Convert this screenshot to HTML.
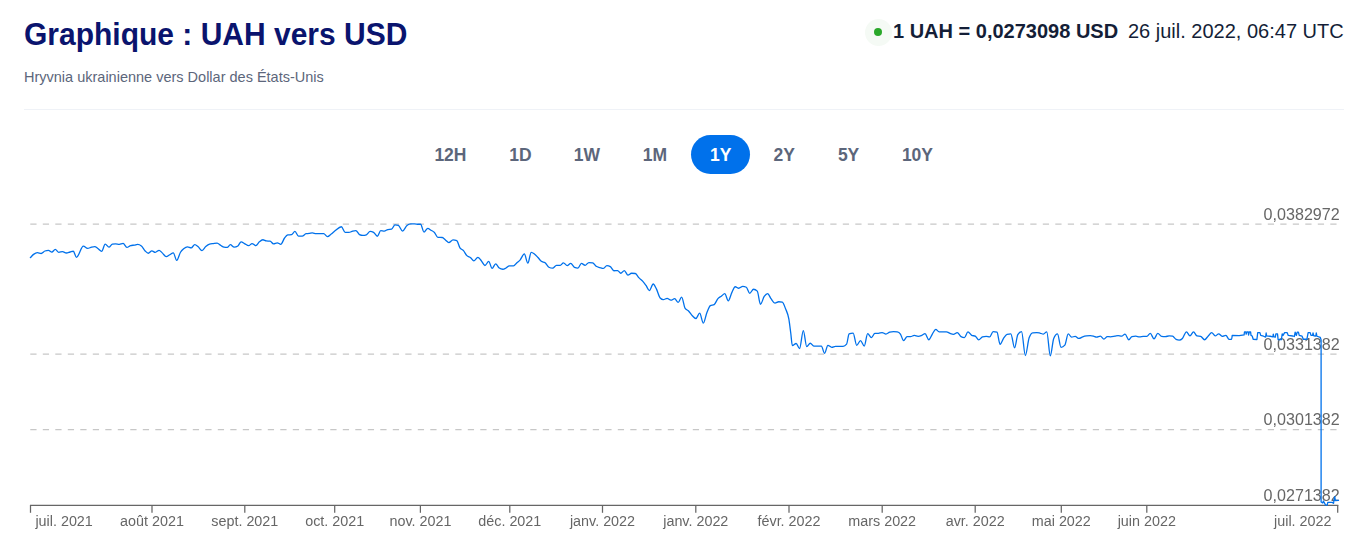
<!DOCTYPE html>
<html><head><meta charset="utf-8">
<style>
html,body{margin:0;padding:0;background:#fff;}
body{width:1357px;height:555px;position:relative;overflow:hidden;font-family:"Liberation Sans",sans-serif;}
.abs{position:absolute;white-space:nowrap;}
svg text{font-family:"Liberation Sans",sans-serif;}
#title{left:24px;top:17px;font-size:30px;font-weight:bold;color:#0a146e;line-height:36px;transform:scaleY(1.03);transform-origin:0 28px;}
#sub{left:24px;top:68px;font-size:14.5px;color:#5c667b;line-height:18px;}
#hr{left:24px;top:109px;width:1320px;height:1px;background:#eff2f7;}
#rateb{left:893px;top:19px;font-size:20px;line-height:24px;color:#141e37;font-weight:bold;}
#ratet{left:1128px;top:19px;font-size:20px;line-height:24px;color:#141e37;}
#halo{left:864.6px;top:18.6px;width:27.2px;height:27.2px;border-radius:50%;background:#f5faf5;}
#dot{left:873.9px;top:27.9px;width:8px;height:8px;border-radius:50%;background:#2aa82a;}
.tab{position:absolute;top:136px;height:38px;line-height:38px;font-size:17.5px;font-weight:bold;color:#5c667b;white-space:nowrap;}
#active{left:691px;top:135px;width:59px;height:39px;border-radius:20px;background:#0071eb;}
</style></head><body>
<div id="title" class="abs">Graphique : UAH vers USD</div>
<div id="sub" class="abs">Hryvnia ukrainienne vers Dollar des États-Unis</div>
<div id="hr" class="abs"></div>
<div id="halo" class="abs"></div><div id="dot" class="abs"></div>
<div id="rateb" class="abs">1 UAH = 0,0273098 USD</div>
<div id="ratet" class="abs">26 juil. 2022, 06:47 UTC</div>
<div id="active" class="abs"></div>
<div class="tab" style="left:434.4px">12H</div>
<div class="tab" style="left:509.2px">1D</div>
<div class="tab" style="left:573.8px">1W</div>
<div class="tab" style="left:642.8px">1M</div>
<div class="tab" style="left:710px;color:#fff">1Y</div>
<div class="tab" style="left:773.5px">2Y</div>
<div class="tab" style="left:837.9px">5Y</div>
<div class="tab" style="left:901.9px">10Y</div>
<svg class="abs" style="left:0;top:0;will-change:transform" width="1357" height="555" viewBox="0 0 1357 555">
<line x1="30.3" x2="1337.5" y1="224" y2="224" stroke="#c7c7c7" stroke-width="1.25" stroke-dasharray="6.25 6.25"/>
<line x1="30.3" x2="1337.5" y1="354" y2="354" stroke="#c7c7c7" stroke-width="1.25" stroke-dasharray="6.25 6.25"/>
<line x1="30.3" x2="1337.5" y1="429.65" y2="429.65" stroke="#c7c7c7" stroke-width="1.25" stroke-dasharray="6.25 6.25"/>
<text x="1339.7" y="219.7" text-anchor="end" font-size="16.1" fill="#666">0,0382972</text>
<text x="1339.7" y="349.7" text-anchor="end" font-size="16.1" fill="#666">0,0331382</text>
<text x="1339.7" y="425.3" text-anchor="end" font-size="16.1" fill="#666">0,0301382</text>
<text x="1339.7" y="501.1" text-anchor="end" font-size="16.1" fill="#666">0,0271382</text>
<path d="M30 505.4H1338.3" stroke="#666" stroke-width="1.25" fill="none"/>
<path d="M30.5 505V512.8" stroke="#666" stroke-width="1.25" fill="none"/>
<path d="M152.0 505V512.8" stroke="#666" stroke-width="1.25" fill="none"/>
<path d="M244.8 505V512.8" stroke="#666" stroke-width="1.25" fill="none"/>
<path d="M334.7 505V512.8" stroke="#666" stroke-width="1.25" fill="none"/>
<path d="M420.4 505V512.8" stroke="#666" stroke-width="1.25" fill="none"/>
<path d="M509.8 505V512.8" stroke="#666" stroke-width="1.25" fill="none"/>
<path d="M602.5 505V512.8" stroke="#666" stroke-width="1.25" fill="none"/>
<path d="M695.8 505V512.8" stroke="#666" stroke-width="1.25" fill="none"/>
<path d="M789.0 505V512.8" stroke="#666" stroke-width="1.25" fill="none"/>
<path d="M882.2 505V512.8" stroke="#666" stroke-width="1.25" fill="none"/>
<path d="M975.2 505V512.8" stroke="#666" stroke-width="1.25" fill="none"/>
<path d="M1061.3 505V512.8" stroke="#666" stroke-width="1.25" fill="none"/>
<path d="M1146.8 505V512.8" stroke="#666" stroke-width="1.25" fill="none"/>
<path d="M1337.7 505V512.8" stroke="#666" stroke-width="1.25" fill="none"/>
<text x="35.4" y="526" font-size="14.35" fill="#666">juil. 2021</text>
<text x="152.0" y="526" text-anchor="middle" font-size="14.35" fill="#666">août 2021</text>
<text x="244.8" y="526" text-anchor="middle" font-size="14.35" fill="#666">sept. 2021</text>
<text x="334.7" y="526" text-anchor="middle" font-size="14.35" fill="#666">oct. 2021</text>
<text x="420.4" y="526" text-anchor="middle" font-size="14.35" fill="#666">nov. 2021</text>
<text x="509.8" y="526" text-anchor="middle" font-size="14.35" fill="#666">déc. 2021</text>
<text x="602.5" y="526" text-anchor="middle" font-size="14.35" fill="#666">janv. 2022</text>
<text x="695.8" y="526" text-anchor="middle" font-size="14.35" fill="#666">janv. 2022</text>
<text x="789.0" y="526" text-anchor="middle" font-size="14.35" fill="#666">févr. 2022</text>
<text x="882.2" y="526" text-anchor="middle" font-size="14.35" fill="#666">mars 2022</text>
<text x="975.2" y="526" text-anchor="middle" font-size="14.35" fill="#666">avr. 2022</text>
<text x="1061.3" y="526" text-anchor="middle" font-size="14.35" fill="#666">mai 2022</text>
<text x="1146.8" y="526" text-anchor="middle" font-size="14.35" fill="#666">juin 2022</text>
<text x="1331.5" y="526" text-anchor="end" font-size="14.35" fill="#666">juil. 2022</text>
<path d="M30.41 257.54C31.46 256.49 32.52 255.19 33.57 254.39C34.83 253.44 36.09 252.63 37.35 252.63C38.61 252.63 39.87 253.51 41.13 253.51C42.39 253.51 43.66 251.44 44.92 250.99C46.10 250.57 47.27 250.36 48.45 250.36C49.58 250.36 50.72 252.12 51.85 252.12C52.99 252.12 54.12 249.47 55.26 249.47C56.44 249.47 57.61 252.37 58.79 252.37C60.05 252.37 61.31 251.62 62.57 251.62C63.83 251.62 65.10 253.00 66.36 253.00C67.62 253.00 68.88 252.32 70.14 252.00C71.19 251.74 72.24 251.24 73.29 251.24C74.34 251.24 75.40 257.29 76.45 257.29C78.76 257.29 81.07 246.19 83.38 246.19C84.77 246.19 86.15 248.46 87.54 248.46C88.89 248.46 90.23 247.40 91.58 247.08C92.63 246.83 93.68 246.57 94.73 246.57C95.78 246.57 96.83 247.75 97.88 248.46C99.14 249.31 100.41 251.36 101.67 251.36C102.85 251.36 104.02 244.05 105.20 244.05C106.46 244.05 107.72 247.20 108.98 247.20C110.12 247.20 111.25 244.23 112.39 244.05C113.44 243.88 114.49 243.80 115.54 243.80C116.80 243.80 118.06 244.30 119.32 244.30C120.58 244.30 121.85 243.42 123.11 243.42C124.37 243.42 125.63 247.46 126.89 247.46C128.15 247.46 129.41 245.89 130.67 245.56C131.93 245.23 133.20 245.27 134.46 245.06C135.51 244.88 136.56 244.43 137.61 244.43C138.87 244.43 140.13 244.93 141.39 245.94C142.65 246.95 143.92 249.73 145.18 250.99C146.23 252.04 147.28 253.26 148.33 253.26C149.51 253.26 150.68 250.86 151.86 250.86C153.00 250.86 154.13 252.37 155.27 252.37C156.53 252.37 157.79 250.36 159.05 250.36C160.10 250.36 161.15 251.98 162.20 252.88C163.55 254.04 164.89 256.66 166.24 256.66C167.42 256.66 168.59 255.40 169.77 254.77C170.95 254.14 172.12 252.88 173.30 252.88C174.43 252.88 175.57 260.45 176.70 260.45C177.96 260.45 179.23 254.24 180.49 252.25C181.54 250.60 182.59 249.72 183.64 248.84C184.90 247.79 186.16 246.82 187.42 246.82C188.68 246.82 189.95 247.83 191.21 247.83C192.39 247.83 193.56 244.68 194.74 244.68C195.89 244.68 197.05 245.89 198.20 246.82C199.46 247.83 200.72 250.61 201.98 250.61C203.24 250.61 204.50 247.66 205.76 246.57C207.02 245.47 208.29 244.38 209.55 244.05C210.81 243.72 212.07 243.70 213.33 243.55C214.59 243.40 215.85 243.17 217.11 243.17C218.37 243.17 219.64 244.84 220.90 245.56C221.95 246.16 223.00 247.03 224.05 247.20C225.10 247.37 226.15 247.46 227.20 247.46C228.25 247.46 229.31 244.68 230.36 244.68C231.62 244.68 232.88 247.20 234.14 247.20C235.40 247.20 236.66 246.78 237.92 245.94C238.97 245.24 240.03 241.78 241.08 241.78C242.34 241.78 243.60 243.15 244.86 243.80C246.12 244.45 247.38 245.69 248.64 245.69C249.78 245.69 250.91 243.55 252.05 243.55C253.31 243.55 254.57 245.69 255.83 245.69C257.01 245.69 258.18 242.77 259.36 241.78C260.54 240.79 261.71 239.76 262.89 239.76C264.03 239.76 265.16 240.75 266.30 240.90C267.56 241.07 268.82 240.98 270.08 241.15C271.22 241.30 272.35 243.80 273.49 243.80C274.75 243.80 276.01 242.79 277.27 242.79C278.45 242.79 279.62 244.30 280.80 244.30C282.06 244.30 283.32 239.61 284.58 238.00C285.63 236.65 286.69 235.18 287.74 234.97C289.00 234.72 290.26 234.84 291.52 234.59C292.66 234.36 293.79 231.44 294.93 231.44C296.11 231.44 297.28 236.11 298.46 236.11C299.72 236.11 300.98 236.11 302.24 236.11C303.50 236.11 304.76 233.91 306.02 233.71C307.07 233.54 308.13 233.61 309.18 233.46C310.23 233.31 311.28 232.83 312.33 232.83C313.59 232.83 314.85 233.71 316.11 233.71C317.37 233.71 318.64 233.71 319.90 233.71C321.16 233.71 322.42 233.71 323.68 233.71C324.94 233.71 326.20 236.61 327.46 236.61C328.72 236.61 329.99 234.93 331.25 233.96C332.51 232.99 333.77 231.77 335.03 230.81C337.13 229.21 339.24 226.77 341.34 226.77C342.60 226.77 343.86 232.45 345.12 232.45C346.38 232.45 347.64 232.45 348.90 232.45C350.16 232.45 351.43 231.38 352.69 231.06C353.74 230.79 354.79 230.56 355.84 230.56C357.08 230.56 358.31 233.93 359.55 234.59C360.64 235.18 361.74 235.47 362.83 235.47C364.01 235.47 365.18 235.26 366.36 234.84C367.62 234.39 368.88 231.44 370.14 231.44C371.28 231.44 372.41 231.73 373.55 232.32C374.81 232.97 376.07 236.23 377.33 236.23C378.47 236.23 379.60 230.56 380.74 230.56C381.92 230.56 383.09 231.06 384.27 231.06C385.45 231.06 386.62 229.79 387.80 229.55C389.06 229.30 390.32 229.42 391.58 229.17C392.72 228.94 393.85 224.88 394.99 224.88C396.12 224.88 397.26 225.05 398.39 225.39C399.78 225.81 401.16 231.06 402.55 231.06C404.02 231.06 405.50 226.57 406.97 225.39C408.23 224.38 409.49 223.87 410.75 223.87C412.01 223.87 413.27 223.87 414.53 223.87C415.79 223.87 417.06 224.25 418.32 224.25C419.08 224.25 419.83 224.25 420.59 224.25C421.72 224.25 422.86 232.07 423.99 232.07C425.25 232.07 426.52 228.29 427.78 228.29C428.83 228.29 429.88 229.53 430.93 230.18C432.11 230.91 433.28 231.21 434.46 232.45C435.59 233.64 436.73 237.31 437.86 237.37C439.33 237.45 440.81 237.41 442.28 237.49C443.33 237.55 444.38 239.08 445.43 239.89C446.57 240.76 447.70 242.54 448.84 242.54C450.23 242.54 451.61 239.89 453.00 239.89C454.26 239.89 455.52 240.14 456.78 240.65C457.83 241.07 458.88 246.18 459.93 247.83C461.11 249.68 462.29 249.26 463.47 250.61C464.60 251.90 465.74 254.48 466.87 255.65C468.13 256.95 469.39 256.68 470.65 257.67C471.70 258.50 472.76 260.82 473.81 260.82C475.15 260.82 476.50 257.29 477.84 257.29C478.93 257.29 480.03 259.21 481.12 260.45C482.38 261.88 483.65 265.49 484.91 265.49C486.17 265.49 487.43 261.45 488.69 261.45C489.82 261.45 490.96 268.39 492.09 268.39C493.27 268.39 494.44 263.85 495.62 263.85C496.84 263.85 498.06 267.14 499.28 268.01C500.46 268.85 501.63 269.27 502.81 269.27C503.86 269.27 504.92 268.55 505.97 268.01C507.10 267.43 508.24 265.87 509.37 265.87C510.76 265.87 512.14 265.87 513.53 265.87C514.58 265.87 515.64 263.93 516.69 262.97C517.87 261.90 519.04 261.16 520.22 259.81C521.58 258.25 522.95 253.96 524.31 253.96C525.49 253.96 526.66 263.17 527.84 263.17C528.97 263.17 530.11 252.32 531.24 252.32C532.29 252.32 533.34 253.18 534.39 253.96C535.57 254.84 536.75 256.24 537.93 257.49C539.06 258.69 540.20 260.40 541.33 261.28C542.59 262.26 543.85 261.81 545.11 262.79C546.37 263.78 547.64 266.52 548.90 267.20C550.16 267.87 551.42 268.21 552.68 268.21C553.94 268.21 555.20 265.31 556.46 265.31C557.72 265.31 558.99 265.31 560.25 265.31C561.30 265.31 562.35 262.79 563.40 262.79C564.66 262.79 565.92 265.56 567.18 265.56C568.36 265.56 569.54 263.42 570.72 263.42C571.98 263.42 573.24 266.90 574.50 267.46C575.63 267.96 576.77 268.21 577.90 268.21C579.08 268.21 580.25 263.42 581.43 263.42C582.65 263.42 583.87 265.31 585.09 265.31C586.35 265.31 587.62 262.54 588.88 262.54C590.14 262.54 591.40 262.62 592.66 262.79C593.84 262.95 595.01 265.54 596.19 266.32C597.45 267.16 598.71 267.20 599.97 267.58C601.02 267.90 602.08 268.46 603.13 268.46C604.39 268.46 605.65 265.69 606.91 265.69C608.04 265.69 609.18 265.98 610.31 266.57C611.49 267.18 612.67 270.73 613.85 270.73C615.11 270.73 616.37 270.61 617.63 270.61C618.68 270.61 619.73 273.26 620.78 273.26C621.96 273.26 623.13 270.61 624.31 270.61C625.53 270.61 626.75 275.15 627.97 275.15C629.15 275.15 630.32 273.26 631.50 273.26C632.76 273.26 634.02 273.34 635.28 273.51C636.54 273.68 637.81 276.62 639.07 277.92C640.33 279.22 641.59 279.91 642.85 281.33C643.90 282.52 644.95 284.02 646.00 285.49C647.14 287.08 648.27 290.53 649.41 290.53C650.67 290.53 651.93 283.98 653.19 283.98C654.26 283.98 655.32 286.82 656.39 288.87C657.65 291.30 658.92 296.63 660.18 297.95C661.23 299.04 662.28 299.59 663.33 299.59C664.59 299.59 665.85 298.46 667.11 298.46C668.37 298.46 669.64 300.22 670.90 300.22C672.16 300.22 673.42 298.71 674.68 298.71C675.86 298.71 677.03 302.37 678.21 302.37C679.35 302.37 680.48 297.07 681.62 297.07C682.80 297.07 683.97 306.68 685.15 308.42C686.28 310.10 687.42 309.82 688.55 310.94C689.81 312.19 691.08 314.44 692.34 315.73C693.52 316.93 694.69 318.51 695.87 318.51C697.13 318.51 698.39 313.21 699.65 313.21C700.87 313.21 702.09 323.18 703.31 323.18C704.49 323.18 705.66 315.75 706.84 312.83C708.02 309.91 709.19 306.28 710.37 305.65C711.63 304.98 712.89 305.31 714.15 304.64C715.41 303.96 716.68 300.00 717.94 298.58C719.07 297.30 720.21 297.01 721.34 296.19C722.48 295.37 723.61 293.66 724.75 293.66C725.93 293.66 727.10 300.85 728.28 300.85C729.46 300.85 730.63 295.04 731.81 292.66C732.95 290.36 734.08 286.73 735.22 286.73C736.40 286.73 737.57 288.24 738.75 288.24C740.09 288.24 741.44 286.35 742.78 286.35C743.96 286.35 745.13 286.64 746.31 287.23C747.45 287.80 748.58 293.29 749.72 293.29C750.98 293.29 752.24 289.25 753.50 289.25C754.76 289.25 756.02 289.88 757.28 291.14C758.33 292.19 759.39 304.26 760.44 304.26C761.70 304.26 762.96 298.22 764.22 296.44C765.36 294.84 766.49 293.66 767.63 293.66C768.81 293.66 769.98 297.42 771.16 298.96C772.42 300.61 773.68 303.12 774.94 303.12C776.20 303.12 777.46 301.74 778.72 301.74C779.90 301.74 781.08 301.86 782.26 302.11C783.39 302.35 784.53 306.11 785.66 309.05C786.72 311.79 787.77 312.83 788.83 318.92C789.46 322.55 790.09 328.00 790.72 332.79C791.27 336.95 791.81 345.65 792.36 345.65C793.62 345.65 794.88 343.51 796.14 343.51C797.28 343.51 798.41 348.55 799.55 348.55C800.81 348.55 802.07 330.65 803.33 330.65C804.47 330.65 805.60 346.66 806.74 346.66C807.92 346.66 809.09 343.26 810.27 343.26C811.45 343.26 812.62 346.03 813.80 346.03C815.14 346.03 816.49 346.03 817.83 346.03C819.01 346.03 820.18 346.03 821.36 346.03C822.41 346.03 823.47 353.35 824.52 353.35C825.65 353.35 826.79 345.40 827.92 345.40C829.18 345.40 830.45 347.29 831.71 347.29C832.97 347.29 834.23 346.28 835.49 346.28C836.75 346.28 838.01 346.28 839.27 346.28C840.53 346.28 841.80 346.28 843.06 346.28C844.24 346.28 845.41 345.57 846.59 344.14C847.43 343.12 848.27 334.12 849.11 333.80C850.46 333.29 851.80 333.04 853.15 333.04C854.33 333.04 855.50 345.40 856.68 345.40C857.94 345.40 859.20 340.61 860.46 340.61C861.72 340.61 862.98 346.03 864.24 346.03C865.38 346.03 866.51 333.67 867.65 333.67C868.91 333.67 870.17 337.58 871.43 337.58C872.57 337.58 873.70 333.42 874.84 333.42C876.02 333.42 877.19 333.42 878.37 333.42C879.63 333.42 880.89 332.54 882.15 332.54C883.41 332.54 884.67 334.05 885.93 334.05C887.19 334.05 888.46 332.58 889.72 332.16C890.98 331.74 892.24 331.53 893.50 331.53C894.76 331.53 896.02 331.61 897.28 331.78C898.33 331.92 899.39 332.57 900.44 334.05C901.49 335.52 902.54 340.61 903.59 340.61C904.77 340.61 905.94 336.57 907.12 336.57C908.26 336.57 909.39 336.57 910.53 336.57C911.79 336.57 913.05 335.44 914.31 335.44C915.57 335.44 916.83 336.32 918.09 336.32C919.35 336.32 920.62 335.82 921.88 335.31C922.93 334.88 923.98 333.67 925.03 333.67C926.29 333.67 927.55 339.73 928.81 339.73C929.99 339.73 931.16 335.80 932.34 334.05C933.48 332.36 934.61 329.38 935.75 329.38C936.88 329.38 938.02 331.78 939.15 331.78C940.33 331.78 941.51 331.78 942.69 331.78C943.95 331.78 945.21 331.78 946.47 331.78C947.66 331.78 948.86 333.00 950.05 333.42C951.19 333.82 952.32 334.30 953.46 334.30C954.72 334.30 955.98 332.54 957.24 332.54C958.50 332.54 959.77 335.82 961.03 336.57C962.16 337.24 963.30 337.58 964.43 337.58C965.61 337.58 966.78 331.91 967.96 331.91C969.22 331.91 970.48 334.68 971.74 335.31C972.92 335.90 974.10 335.60 975.28 336.19C976.41 336.75 977.55 339.85 978.68 339.85C979.94 339.85 981.20 337.15 982.46 336.82C983.72 336.49 984.99 336.32 986.25 336.32C987.38 336.32 988.52 336.95 989.65 336.95C990.83 336.95 992.00 331.53 993.18 331.53C994.44 331.53 995.71 331.74 996.97 332.16C998.02 332.51 999.07 344.39 1000.12 344.39C1001.26 344.39 1002.39 340.12 1003.53 338.46C1004.71 336.74 1005.88 334.61 1007.06 334.30C1008.32 333.97 1009.58 333.80 1010.84 333.80C1012.10 333.80 1013.36 347.92 1014.62 347.92C1015.67 347.92 1016.73 336.44 1017.78 334.68C1019.04 332.58 1020.30 331.53 1021.56 331.53C1022.82 331.53 1024.08 355.49 1025.34 355.49C1026.60 355.49 1027.87 341.44 1029.13 337.83C1030.31 334.47 1031.48 332.94 1032.66 332.79C1034.00 332.62 1035.35 332.54 1036.69 332.54C1037.74 332.54 1038.80 332.81 1039.85 333.04C1041.03 333.30 1042.20 334.05 1043.38 334.05C1044.51 334.05 1045.65 331.78 1046.78 331.78C1047.96 331.78 1049.13 355.87 1050.31 355.87C1051.45 355.87 1052.58 341.26 1053.72 338.46C1054.98 335.35 1056.24 333.80 1057.50 333.80C1058.68 333.80 1059.85 347.29 1061.03 347.29C1062.29 347.29 1063.56 346.58 1064.82 345.15C1065.95 343.87 1067.09 333.80 1068.22 333.80C1069.36 333.80 1070.49 337.20 1071.63 337.20C1072.81 337.20 1073.98 336.32 1075.16 336.32C1076.42 336.32 1077.68 338.46 1078.94 338.46C1080.20 338.46 1081.46 337.24 1082.72 336.82C1083.98 336.40 1085.25 336.11 1086.51 335.94C1087.77 335.77 1089.03 335.69 1090.29 335.69C1091.34 335.69 1092.39 335.94 1093.44 336.19C1094.49 336.44 1095.55 337.20 1096.60 337.20C1097.86 337.20 1099.12 336.19 1100.38 336.19C1101.56 336.19 1102.73 339.09 1103.91 339.09C1105.05 339.09 1106.18 336.57 1107.32 336.57C1108.37 336.57 1109.42 336.82 1110.47 336.82C1111.96 336.82 1113.45 336.42 1114.94 336.19C1115.99 336.03 1117.04 335.69 1118.09 335.69C1119.27 335.69 1120.44 336.19 1121.62 336.19C1122.76 336.19 1123.89 334.05 1125.03 334.05C1126.29 334.05 1127.55 339.73 1128.81 339.73C1129.86 339.73 1130.91 336.78 1131.96 336.57C1133.22 336.32 1134.48 336.19 1135.74 336.19C1137.00 336.19 1138.27 336.95 1139.53 336.95C1140.79 336.95 1142.05 336.32 1143.31 336.32C1144.49 336.32 1145.66 336.32 1146.84 336.32C1147.98 336.32 1149.11 333.42 1150.25 333.42C1151.51 333.42 1152.77 338.84 1154.03 338.84C1155.29 338.84 1156.55 333.42 1157.81 333.42C1159.07 333.42 1160.34 336.15 1161.60 336.32C1162.86 336.49 1164.12 336.57 1165.38 336.57C1166.64 336.57 1167.90 335.94 1169.16 335.94C1170.30 335.94 1171.43 336.02 1172.57 336.19C1173.75 336.36 1174.92 338.79 1176.10 339.35C1177.15 339.85 1178.20 340.10 1179.25 340.10C1180.30 340.10 1181.36 339.52 1182.41 338.46C1183.75 337.11 1185.10 331.91 1186.44 331.91C1187.62 331.91 1188.79 335.94 1189.97 335.94C1191.15 335.94 1192.32 331.78 1193.50 331.78C1194.64 331.78 1195.77 335.71 1196.91 335.94C1198.17 336.19 1199.43 336.07 1200.69 336.32C1201.95 336.57 1203.22 339.73 1204.48 339.73C1205.74 339.73 1207.00 337.20 1208.26 335.94C1209.39 334.81 1210.53 332.54 1211.66 332.54C1212.84 332.54 1214.02 335.94 1215.20 335.94C1216.38 335.94 1217.55 333.80 1218.73 333.80C1219.86 333.80 1221.00 336.32 1222.13 336.32C1223.39 336.32 1224.66 335.31 1225.92 335.31C1226.97 335.31 1228.02 339.47 1229.07 339.47C1229.91 339.47 1230.75 339.47 1231.59 339.47C1231.80 339.47 1232.01 336.70 1232.22 335.31L1239.24 335.67L1244.11 334.86L1244.51 331.78L1245.73 331.78L1246.13 334.21L1246.94 331.78L1248.16 331.78L1248.56 335.02L1249.38 331.78L1250.59 331.78L1251.00 335.43L1252.21 336.00L1253.18 339.24L1256.91 339.48L1257.72 332.59L1259.91 332.59L1260.72 335.43L1263.56 336.24L1265.59 337.05L1266.15 333.00L1266.64 335.83L1270.05 336.24L1272.88 336.81L1273.29 334.21L1273.94 336.81L1275.31 337.05L1275.88 333.81L1277.50 333.81L1278.15 339.72L1281.39 339.72L1282.20 333.81L1283.02 335.43L1284.64 332.59L1287.07 332.59L1288.28 335.43L1292.74 336.00L1294.36 336.48L1295.17 332.19L1296.39 335.43L1297.20 332.19L1298.42 332.19L1299.23 335.43L1302.06 336.24L1303.28 339.24L1306.93 339.24L1308.14 332.59L1310.17 332.59L1310.98 335.43L1312.60 335.43L1313.01 333.00L1313.82 335.83L1315.85 336.00L1316.25 333.00L1316.90 336.24L1320.30 337.45L1321.11 339.89L1321.10 400.00L1321.10 502.00L1322.80 503.00L1323.40 501.00L1324.50 503.00L1325.60 505.20L1327.20 505.20L1327.80 502.40L1332.20 502.40L1333.50 503.30L1334.70 496.70L1335.40 500.50L1338.50 500.30" stroke="#0071eb" stroke-width="1.3" fill="none" stroke-linejoin="round" stroke-linecap="round"/>
</svg>
</body></html>
